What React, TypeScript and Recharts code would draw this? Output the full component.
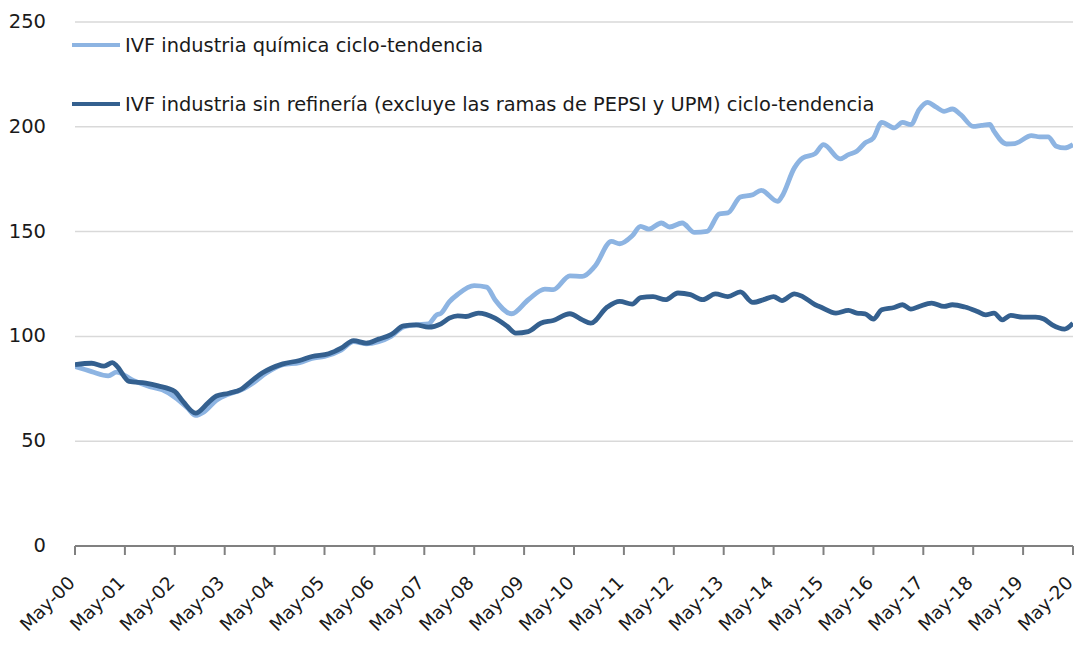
import React from "react";
import { LineChart, Line, XAxis, YAxis, CartesianGrid, Legend } from "recharts";

// Month offsets from May-2000 (0 = May-00, 240 = May-20)
const quimicaMonths = [0, 4, 8, 10, 14, 18, 21, 24, 27, 29, 31, 34, 37, 40, 43, 46, 50, 54, 57, 60, 64, 67, 70, 73, 76, 79, 82, 85, 87, 88, 90, 92, 96, 99, 101, 105, 109, 113, 115, 119, 122, 125, 129, 131, 134, 136, 138, 141, 143, 146, 149, 152, 155, 157, 160, 163, 165, 169, 170, 173, 175, 178, 180, 184, 186, 188, 190, 192, 194, 197, 199, 201, 203, 205, 207, 209, 211, 213, 216, 218, 220, 221, 224, 226, 230, 232, 234, 236, 238, 240];
const quimicaValues = [85.6, 83.2, 81.2, 83, 79, 76, 74.5, 71, 66, 62.3, 64, 69.5, 72.5, 74.5, 78, 82.5, 86.5, 87.5, 89.5, 90.5, 93.5, 97.5, 96.5, 97.5, 100, 104.5, 105.5, 106, 110.3, 111, 116.5, 120, 124.2, 123.5, 117.5, 110.8, 117.5, 122.6, 122.3, 128.9, 128.6, 133.4, 145.3, 144.2, 148, 152.5, 151.2, 154.1, 152.2, 154.1, 149.6, 150.1, 158.5, 158.9, 166.5, 167.6, 169.7, 164.4, 166.8, 180.4, 185.1, 187.2, 191.5, 184.7, 186.7, 188.3, 192.3, 194.7, 202.1, 199.5, 202.1, 201.1, 208.2, 211.7, 209.5, 207.4, 208.5, 205.8, 200.2, 200.7, 201.1, 197.9, 191.8, 192, 195.8, 195.2, 195.2, 190.7, 189.9, 191.5];

const sinRefMonths = [0, 4, 7, 9, 10, 13, 17, 20, 24, 26, 29, 32, 34, 37, 40, 42, 45, 50, 54, 57, 61, 64, 67, 70, 73, 76, 79, 82, 85, 88, 90, 92, 94, 97, 101, 104, 106, 109, 112, 115, 119, 122, 124, 128, 131, 134, 136, 139, 142, 145, 148, 151, 154, 157, 160, 163, 166, 168, 170, 173, 175, 178, 179, 183, 186, 188, 190, 192, 194, 197, 199, 201, 203, 206, 209, 211, 214, 217, 219, 221, 223, 225, 228, 231, 233, 235, 238, 240];
const sinRefValues = [86.5, 87.2, 85.8, 87.5, 86, 78.5, 77.7, 76.4, 73.7, 68.9, 63.4, 68.3, 71.6, 72.9, 74.8, 78, 82.5, 86.9, 88.5, 90.4, 91.7, 94.4, 98, 96.8, 98.7, 100.8, 105, 105.5, 104.4, 106, 108.7, 109.8, 109.5, 111.1, 108.7, 104.7, 101.6, 102.3, 106.3, 107.6, 110.8, 107.9, 106.3, 114, 116.7, 115.4, 118.5, 119, 117.5, 120.7, 119.9, 117.5, 120.3, 119, 121.2, 116.2, 117.8, 119, 117.1, 120.3, 119, 115.1, 114.3, 111.1, 112.4, 111.1, 110.8, 108.3, 112.7, 113.8, 115.1, 113, 114.3, 115.9, 114.3, 115.1, 114, 111.9, 110.3, 111.1, 107.9, 110, 109.2, 109.2, 108.3, 105.5, 103.5, 106.3];

const xTickMonths = [0, 12, 24, 36, 48, 60, 72, 84, 96, 108, 120, 132, 144, 156, 168, 180, 192, 204, 216, 228, 240];
const xTickLabels = ["May-00", "May-01", "May-02", "May-03", "May-04", "May-05", "May-06", "May-07", "May-08", "May-09", "May-10", "May-11", "May-12", "May-13", "May-14", "May-15", "May-16", "May-17", "May-18", "May-19", "May-20"];
const yTicks = [0, 50, 100, 150, 200, 250];

const seriesNames = [
  "IVF industria química ciclo-tendencia",
  "IVF industria sin refinería (excluye las ramas de PEPSI y UPM) ciclo-tendencia",
];

const LIGHT = "#8DB4E2";
const DARK = "#34608F";
const FONT = "'DejaVu Sans', Verdana, sans-serif";

const quimicaData = quimicaMonths.map((m, i) => ({ m, v: quimicaValues[i] }));
const sinRefData = sinRefMonths.map((m, i) => ({ m, v: sinRefValues[i] }));

const XTick = (props: any) => {
  const { x, payload } = props;
  const idx = xTickMonths.indexOf(payload.value);
  const label = idx >= 0 ? xTickLabels[idx] : "";
  const ax = x + 1;
  const ay = 584;
  return (
    <text
      x={ax}
      y={ay}
      transform={`rotate(-45 ${ax} ${ay})`}
      textAnchor="end"
      fontSize={18.5}
      fontFamily={FONT}
      fill="#1a1a1a"
    >
      {label}
    </text>
  );
};

const LegendContent = (props: any) => {
  const { payload } = props;
  return (
    <div style={{ fontFamily: FONT, fontSize: 19.4, color: "#1a1a1a" }}>
      {(payload || []).map((p: any, i: number) => (
        <div
          key={i}
          style={{ display: "flex", alignItems: "center", height: 30, marginBottom: i === 0 ? 29 : 0, whiteSpace: "nowrap" }}
        >
          <div style={{ width: 48, height: 4.5, background: p.color, marginRight: 5 }} />
          <span>{p.value}</span>
        </div>
      ))}
    </div>
  );
};

export default function App() {
  return (
    <div style={{ position: "absolute", left: 0, top: 0, width: 1080, height: 645, background: "#fff" }}>
      <LineChart width={1080} height={645} margin={{ top: 22, right: 7, left: 0, bottom: 0 }}>
        <CartesianGrid vertical={false} stroke="#d9d9d9" strokeWidth={1.5} />
        <XAxis
          type="number"
          dataKey="m"
          domain={[0, 240]}
          ticks={xTickMonths}
          interval={0}
          height={99}
          tick={<XTick />}
          tickSize={9}
          stroke="#808080"
          strokeWidth={2}
          allowDataOverflow
        />
        <YAxis
          type="number"
          domain={[0, 250]}
          ticks={yTicks}
          width={75}
          axisLine={false}
          tickLine={false}
          tickSize={0}
          tickMargin={29}
          tick={{ fontSize: 19.5, fontFamily: FONT, fill: "#1a1a1a", dy: -1 }}
        />
        <Legend
          layout="vertical"
          align="center"
          verticalAlign="middle"
          wrapperStyle={{ left: 72, top: 30, width: 900 }}
          content={<LegendContent />}
        />
        <Line
          data={quimicaData}
          dataKey="v"
          name={seriesNames[0]}
          type="monotone"
          stroke={LIGHT}
          strokeWidth={4.8}
          dot={false}
          isAnimationActive={false}
        />
        <Line
          data={sinRefData}
          dataKey="v"
          name={seriesNames[1]}
          type="monotone"
          stroke={DARK}
          strokeWidth={4.8}
          dot={false}
          isAnimationActive={false}
        />
      </LineChart>
    </div>
  );
}
